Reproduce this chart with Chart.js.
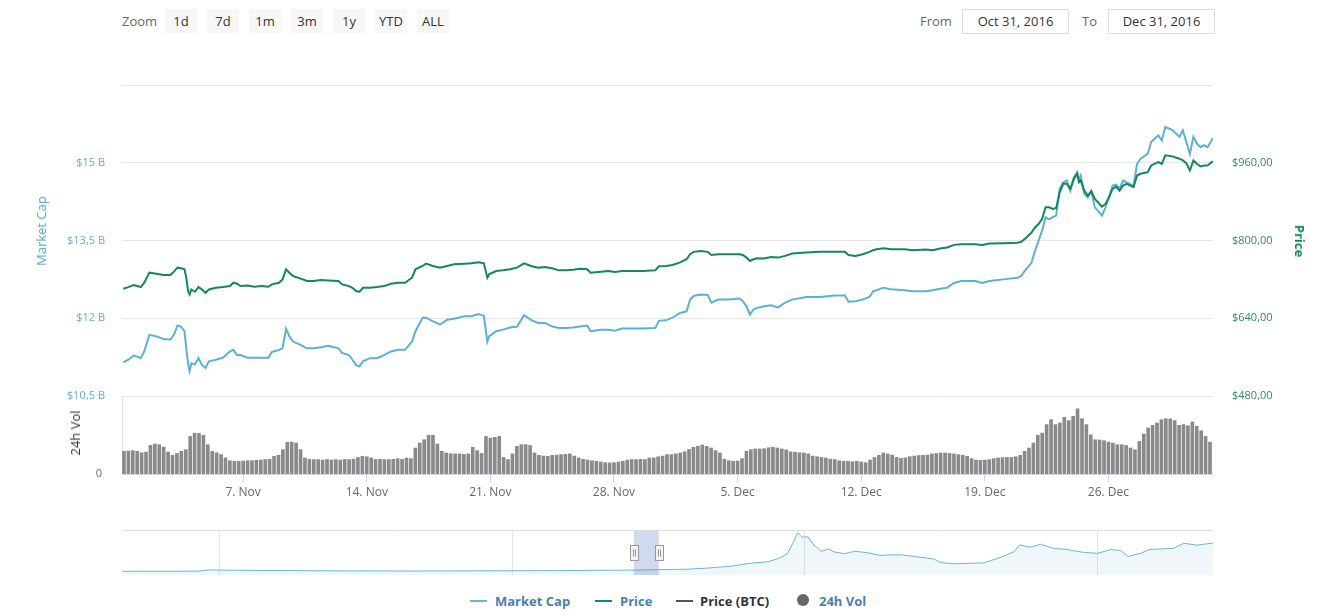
<!DOCTYPE html>
<html>
<head>
<meta charset="utf-8">
<script src="https://cdn.jsdelivr.net/npm/chart.js@4.4.1/dist/chart.umd.min.js"></script>
<style>
  html, body { margin: 0; padding: 0; background: #fff; }
  body { width: 1331px; height: 616px; position: relative; overflow: hidden; font-family: 'Open Sans', sans-serif; }
  canvas { position: absolute; left: 0; }
  #cMain { top: 80px; }
  #cVol { top: 390px; }
  #cNav { top: 528px; }
  .lbl { position: absolute; top: 9px; font-size: 13px; color: #666; line-height: 24px; }
  .btn { position: absolute; top: 9px; width: 32px; height: 24px; line-height: 24px; background: #f7f7f7; color: #333; font-size: 13px; text-align: center; }
  .box { position: absolute; top: 9px; height: 23px; line-height: 23px; border: 1px solid #ddd; color: #333; font-size: 13px; text-align: center; }
  .ttl { position: absolute; white-space: nowrap; font-size: 13px; }
  .leg { position: absolute; top: 591px; font-size: 13px; font-weight: bold; line-height: 20px; white-space: nowrap; }
  .sym { position: absolute; top: 600px; height: 2px; width: 17px; }
</style>
</head>
<body>

<div class="lbl" style="left:122px">Zoom</div>
<div class="btn" style="left:165px">1d</div>
<div class="btn" style="left:207px">7d</div>
<div class="btn" style="left:249px">1m</div>
<div class="btn" style="left:291px">3m</div>
<div class="btn" style="left:333px">1y</div>
<div class="btn" style="left:375px">YTD</div>
<div class="btn" style="left:417px">ALL</div>

<div class="lbl" style="left:920px">From</div>
<div class="box" style="left:962px;width:105px">Oct 31, 2016</div>
<div class="lbl" style="left:1082px">To</div>
<div class="box" style="left:1108px;width:105px">Dec 31, 2016</div>

<canvas id="cMain" width="1331" height="330"></canvas>
<canvas id="cVol" width="1331" height="114"></canvas>
<canvas id="cNav" width="1331" height="50"></canvas>

<div class="ttl" style="left:41px;top:231px;color:#4ea5d0;transform:translate(-50%,-50%) rotate(-90deg)">Market Cap</div>
<div class="ttl" style="left:75px;top:433px;color:#333;transform:translate(-50%,-50%) rotate(-90deg)">24h Vol</div>
<div class="ttl" style="left:1300px;top:241px;color:#15875a;font-weight:bold;transform:translate(-50%,-50%) rotate(90deg)">Price</div>

<div class="sym" style="left:470px;background:#6db3d8"></div>
<div class="leg" style="left:495px;color:#4a7db3">Market Cap</div>
<div class="sym" style="left:595px;background:#168a5e"></div>
<div class="leg" style="left:620px;color:#4a7db3">Price</div>
<div class="sym" style="left:676px;background:#555"></div>
<div class="leg" style="left:700px;color:#333">Price (BTC)</div>
<div class="sym" style="left:797px;top:594px;width:12px;height:12px;border-radius:6px;background:#666"></div>
<div class="leg" style="left:819px;color:#4a7db3">24h Vol</div>

<script>
/* ── data: days counted from 31 Oct 2016 ── */
var lineDays = [
  0.21, 0.50, 0.80, 1.00, 1.20, 1.40, 1.69, 2.09, 2.49, 2.88, 3.08, 3.28, 3.48, 3.68, 3.78, 3.88, 3.97, 4.07, 4.27, 4.47,
  4.67, 4.87, 5.06, 5.46, 5.86, 6.25, 6.45, 6.65, 6.85, 7.25, 7.64, 8.04, 8.43, 8.63, 9.03, 9.23, 9.43, 9.62, 9.82, 10.22,
  10.62, 11.01, 11.41, 11.81, 12.40, 12.60, 12.99, 13.19, 13.39, 13.59, 13.79, 14.18, 14.58, 14.98, 15.37, 15.77, 16.17, 16.56, 16.76, 17.16,
  17.36, 17.75, 18.15, 18.55, 18.94, 19.54, 19.93, 20.33, 20.63, 20.83, 20.93, 21.32, 21.72, 22.11, 22.51, 22.91, 23.30, 23.70, 24.10, 24.49,
  24.89, 25.29, 25.68, 26.08, 26.48, 26.67, 27.27, 27.67, 28.06, 28.46, 29.65, 30.34, 30.54, 30.94,
  31.31, 31.71, 32.11, 32.31, 32.51, 32.91, 33.31, 33.51, 33.90, 34.50, 35.10, 35.30, 35.50, 35.70, 35.90, 36.10, 36.50, 36.89, 37.29, 37.69,
  38.09, 38.89, 39.68, 40.48, 41.08, 41.28, 41.68, 42.08, 42.47, 42.67, 42.87, 43.27, 43.67, 44.47, 44.87, 45.66, 46.06, 46.46, 46.86, 47.26,
  47.66, 48.45, 48.85, 49.25, 50.05, 50.85, 51.05, 51.25, 51.64, 51.84, 52.04, 52.24, 52.44, 52.64, 52.84, 53.04, 53.24, 53.44, 53.64, 53.84,
  54.04, 54.23, 54.33, 54.43, 54.63, 54.83, 55.03, 55.23, 55.63, 55.83, 56.03, 56.23, 56.43, 56.63, 56.83, 57.03, 57.42, 57.62, 57.82, 58.22,
  58.42, 58.82, 59.02, 59.22, 59.62, 60.02, 60.21, 60.41, 60.61, 60.81, 61.01, 61.21, 61.41, 61.61, 61.91
];

var priceUsd = [
  700.7, 704.1, 708.3, 706.2, 704.1, 713.1, 733.8, 731.7, 729.0, 729.0, 735.9, 744.1, 742.8, 740.7, 723.4, 695.9, 689.0, 699.3, 694.5, 704.1,
  699.3, 692.4, 699.3, 702.8, 704.1, 706.2, 713.1, 711.0, 706.2, 707.6, 704.8, 706.2, 704.8, 709.7, 713.1, 720.0, 740.7, 733.8, 726.9, 722.1,
  716.6, 716.6, 718.6, 717.9, 716.6, 709.7, 706.2, 702.8, 695.9, 694.5, 702.8, 702.8, 704.1, 706.2, 711.0, 713.1, 713.1, 723.4, 740.7, 747.6,
  752.4, 747.6, 744.1, 747.6, 751.0, 752.4, 753.1, 755.2, 753.1, 723.4, 730.3, 737.2, 738.6, 740.7, 744.1, 753.1, 747.6, 744.1, 745.5, 742.8,
  738.6, 738.6, 740.0, 742.1, 740.7, 733.8, 735.9, 737.2, 735.2, 737.2, 737.2, 738.6, 746.9, 747.6,
  749.6, 754.5, 761.4, 771.7, 776.6, 778.6, 776.6, 770.3, 771.7, 771.7, 771.7, 770.3, 764.8, 757.9, 761.4, 763.4, 762.8, 766.2, 764.8, 768.3,
  773.1, 775.2, 776.6, 776.6, 776.6, 770.3, 768.3, 771.7, 776.6, 780.0, 782.1, 784.1, 782.1, 782.1, 780.0, 781.4, 780.0, 783.5, 785.5, 791.0,
  792.4, 792.4, 791.0, 793.8, 794.5, 795.2, 797.2, 802.8, 816.5, 826.9, 833.8, 844.1, 868.3, 868.3, 864.8, 866.9, 899.3, 916.6, 916.6, 906.2,
  926.9, 937.3, 920.0, 923.5, 902.8, 892.4, 901.4, 885.5, 869.7, 875.2, 889.0, 906.2, 911.0, 902.8, 913.1, 916.6, 909.7, 933.8, 937.3, 940.7,
  954.5, 961.4, 957.9, 975.2, 973.1, 968.3, 964.8, 959.3, 944.1, 964.8, 957.9, 952.4, 954.5, 954.5, 962.8
];

var marketCapB = [
  11.15, 11.20, 11.28, 11.26, 11.23, 11.36, 11.68, 11.65, 11.60, 11.59, 11.68, 11.86, 11.84, 11.75, 11.42, 11.13, 10.98, 11.13, 11.11, 11.23,
  11.10, 11.04, 11.17, 11.20, 11.24, 11.36, 11.39, 11.29, 11.29, 11.24, 11.24, 11.24, 11.24, 11.35, 11.39, 11.42, 11.80, 11.65, 11.55, 11.49,
  11.42, 11.42, 11.44, 11.47, 11.42, 11.33, 11.29, 11.20, 11.10, 11.07, 11.17, 11.23, 11.23, 11.29, 11.36, 11.39, 11.39, 11.55, 11.75, 12.01,
  12.01, 11.94, 11.88, 11.97, 11.99, 12.04, 12.04, 12.08, 12.05, 11.55, 11.65, 11.75, 11.78, 11.82, 11.84, 12.06, 11.97, 11.91, 11.91, 11.84,
  11.81, 11.81, 11.82, 11.84, 11.86, 11.75, 11.78, 11.78, 11.76, 11.80, 11.80, 11.81, 11.95, 11.96,
  12.01, 12.10, 12.13, 12.36, 12.43, 12.46, 12.45, 12.30, 12.36, 12.36, 12.38, 12.33, 12.23, 12.07, 12.17, 12.20, 12.23, 12.25, 12.21, 12.30,
  12.36, 12.41, 12.41, 12.44, 12.44, 12.32, 12.33, 12.36, 12.41, 12.52, 12.54, 12.59, 12.56, 12.54, 12.52, 12.52, 12.54, 12.57, 12.59, 12.68,
  12.72, 12.72, 12.68, 12.72, 12.75, 12.78, 12.81, 12.91, 13.07, 13.30, 13.49, 13.69, 13.95, 13.91, 13.95, 13.98, 14.50, 14.62, 14.66, 14.46,
  14.72, 14.82, 14.66, 14.75, 14.40, 14.33, 14.45, 14.14, 13.98, 14.14, 14.33, 14.56, 14.58, 14.50, 14.66, 14.62, 14.56, 14.98, 15.08, 15.17,
  15.40, 15.53, 15.43, 15.69, 15.63, 15.50, 15.63, 15.40, 15.17, 15.50, 15.37, 15.30, 15.34, 15.30, 15.47
];

// 24h volume in $ millions, one bar every 6 hours
var volStartDay = 0.25, volStepDay = 0.25;
var volumeM = [
  96, 97, 99, 96, 90, 93, 121, 127, 124, 114, 93, 79, 87, 96, 103, 159, 173, 172, 164, 124,
  96, 90, 82, 68, 56, 54, 54, 55, 56, 56, 58, 59, 61, 62, 75, 79, 103, 134, 135, 131,
  103, 68, 62, 61, 61, 59, 61, 59, 61, 59, 62, 61, 63, 70, 75, 73, 68, 62, 62, 61,
  61, 62, 65, 62, 68, 65, 110, 131, 145, 164, 164, 127, 96, 89, 86, 85, 85, 83, 85, 113,
  99, 87, 159, 152, 155, 159, 70, 61, 85, 117, 124, 124, 121, 89, 79, 76, 75, 79, 80, 82,
  83, 85, 76, 68, 62, 59, 56, 54, 51, 48, 47, 48, 51, 54, 59, 61, 61, 62, 61, 68,
  68, 73, 76, 82, 82, 85, 89, 94, 104, 113, 118, 123, 117, 110, 99, 89, 63, 56, 54, 55,
  65, 96, 103, 106, 106, 107, 111, 113, 110, 106, 102, 94, 92, 90, 89, 85, 76, 73, 70, 68,
  63, 61, 56, 54, 54, 52, 54, 51, 48, 59, 70, 79, 89, 85, 80, 70, 66, 68, 73, 76,
  78, 79, 80, 85, 87, 89, 89, 87, 85, 82, 79, 75, 65, 59, 58, 59, 61, 65, 68, 69,
  70, 70, 73, 79, 96, 110, 131, 164, 173, 209, 230, 209, 216, 240, 226, 244, 276, 234, 209, 166,
  145, 144, 141, 135, 131, 124, 124, 121, 110, 102, 138, 169, 195, 206, 216, 230, 234, 233, 226, 206,
  209, 204, 220, 202, 183, 159, 135
];

var xTickDays = [7, 14, 21, 28, 35, 42, 49, 56];
var xTickLabels = ['7. Nov', '14. Nov', '21. Nov', '28. Nov', '5. Dec', '12. Dec', '19. Dec', '26. Dec'];

// navigator: whole history, market cap in $ billions
var navYears = [
  2013.33, 2013.6, 2013.85, 2013.92, 2014.1, 2014.4, 2014.9, 2015.3, 2015.9, 2016.3, 2016.6, 2016.85, 2017.0, 2017.2, 2017.35,
  2017.5, 2017.63, 2017.75, 2017.83, 2017.88, 2017.92, 2017.95, 2017.98, 2018.02, 2018.06, 2018.11, 2018.16, 2018.2, 2018.27, 2018.34,
  2018.43, 2018.52, 2018.56, 2018.66, 2018.84, 2018.88, 2018.93, 2019.02, 2019.22, 2019.34, 2019.43, 2019.47, 2019.53, 2019.56, 2019.61,
  2019.7, 2019.79, 2019.9, 2020.0, 2020.09, 2020.16, 2020.21, 2020.3, 2020.35, 2020.52, 2020.59, 2020.68, 2020.79
];
var navMarketCapB = [
  1.5, 1.2, 3, 13, 10, 7.5, 4.5, 3.3, 6, 6.8, 10, 11.5, 15, 19, 30,
  45, 70, 82, 115, 150, 245, 326, 290, 292, 225, 170, 190, 165, 150, 170,
  158, 135, 140, 140, 112, 105, 75, 65, 72, 120, 167, 225, 205, 210, 230,
  195, 185, 162, 153, 185, 177, 127, 155, 185, 195, 238, 222, 240
];
var navTickYears = [2014, 2016, 2018, 2020];
var navRange = [2016.83, 2017.0];

/* ── helpers ── */
Chart.defaults.font.family = "'Open Sans', sans-serif";

var X_MIN = 0.14, X_MAX = 61.92;

function pts(xs, ys) {
  return xs.map(function (x, i) { return { x: x, y: ys[i] }; });
}
function comma(v, dec) {
  return (dec ? v.toFixed(dec) : String(v)).replace('.', ',');
}
// fixed axis size, and no extra room reserved for the end labels
function fixW(w) {
  return function (s) { s.width = w; s.paddingTop = 0; s.paddingBottom = 0; };
}
function fixH(h) {
  return function (s) { s.height = h; s.paddingLeft = 0; s.paddingRight = 0; };
}
var volPts = volumeM.map(function (v, i) { return { x: volStartDay + i * volStepDay, y: v }; });

var BASE = {
  responsive: false, animation: false,
  plugins: { legend: { display: false }, tooltip: { enabled: false } }
};

/* ── main pane: market cap + price ── */
new Chart(document.getElementById('cMain'), {
  type: 'line',
  data: {
    datasets: [
      { label: 'Price', data: pts(lineDays, priceUsd), yAxisID: 'yP', borderColor: '#14875b', borderWidth: 2, pointRadius: 0, tension: 0 },
      { label: 'Market Cap', data: pts(lineDays, marketCapB), yAxisID: 'yM', borderColor: '#5cb0d7', borderWidth: 2, pointRadius: 0, tension: 0 }
    ]
  },
  options: Object.assign({}, BASE, {
    layout: { padding: { top: 5, bottom: 14, left: 0, right: 0 } },
    scales: {
      x: { type: 'linear', display: false, min: X_MIN, max: X_MAX },
      yM: {
        position: 'left', min: 10.5, max: 16.5,
        afterFit: fixW(122),
        ticks: { stepSize: 1.5, padding: 17, color: '#64abd2', font: { size: 11 },
          callback: function (v) { return v > 16 ? '' : '$' + comma(v) + ' B'; } },
        grid: { color: '#e6e6e6', drawTicks: false },
        border: { display: false }
      },
      yP: {
        position: 'right', min: 480, max: 1120,
        afterFit: fixW(118),
        ticks: { stepSize: 160, padding: 19, color: '#2f8a63', font: { size: 11 },
          callback: function (v) { return v > 1000 ? '' : '$' + comma(v, 2); } },
        grid: { display: false, drawTicks: false },
        border: { display: false }
      }
    }
  })
});

/* ── volume pane ── */
new Chart(document.getElementById('cVol'), {
  type: 'bar',
  data: {
    datasets: [{ label: '24h Vol', data: volPts, backgroundColor: '#8a8a8a', barThickness: 3 }]
  },
  options: Object.assign({}, BASE, {
    layout: { padding: { top: 6, bottom: 0, left: 0, right: 118 } },
    scales: {
      x: {
        type: 'linear', min: X_MIN, max: X_MAX, offset: false,
        afterFit: fixH(30),
        afterBuildTicks: function (s) { s.ticks = xTickDays.map(function (d) { return { value: d }; }); },
        ticks: { autoSkip: false, maxRotation: 0, padding: 3, color: '#666', font: { size: 12 },
          callback: function (v) { return xTickLabels[xTickDays.indexOf(v)]; } },
        grid: { offset: false, drawOnChartArea: false, drawTicks: true, tickLength: 8, color: '#ccd6eb' },
        border: { display: true, color: '#ccd6eb' }
      },
      y: {
        position: 'left', min: 0, max: 330,
        afterFit: fixW(122),
        afterBuildTicks: function (s) { s.ticks = [{ value: 0 }]; },
        ticks: { padding: 20, color: '#666', font: { size: 11 } },
        grid: { display: false, drawTicks: false },
        border: { display: true, color: '#e0e0e0' }
      }
    }
  })
});

/* ── navigator ── */
var navDecor = {
  id: 'navDecor',
  afterDatasetsDraw: function (chart) {
    var ctx = chart.ctx, a = chart.chartArea, xs = chart.scales.x;
    var x0 = xs.getPixelForValue(navRange[0]), x1 = xs.getPixelForValue(navRange[1]);
    ctx.save();
    ctx.fillStyle = 'rgba(102,133,194,0.3)';
    ctx.fillRect(x0, a.top, x1 - x0, a.bottom - a.top);
    ctx.strokeStyle = '#dcdcdc'; ctx.lineWidth = 1;
    ctx.beginPath(); ctx.moveTo(a.left, a.top + 0.5); ctx.lineTo(a.right, a.top + 0.5); ctx.stroke();
    var my = (a.top + a.bottom) / 2;
    [x0, x1].forEach(function (hx) {
      var l = Math.round(hx - 4) + 0.5, t = Math.round(my - 8) + 0.5;
      ctx.fillStyle = '#f2f2f2'; ctx.strokeStyle = '#999';
      ctx.fillRect(l, t, 8, 15); ctx.strokeRect(l, t, 8, 15);
      ctx.beginPath();
      ctx.moveTo(l + 3, t + 4); ctx.lineTo(l + 3, t + 11);
      ctx.moveTo(l + 5, t + 4); ctx.lineTo(l + 5, t + 11);
      ctx.stroke();
    });
    ctx.restore();
  }
};

new Chart(document.getElementById('cNav'), {
  type: 'line',
  data: {
    datasets: [{ data: pts(navYears, navMarketCapB), borderColor: '#6cb4d8', borderWidth: 1, pointRadius: 0, tension: 0,
      fill: 'start', backgroundColor: 'rgba(108,180,216,0.1)' }]
  },
  options: Object.assign({}, BASE, {
    layout: { padding: { top: 2, bottom: 3, left: 122, right: 118 } },
    scales: {
      x: {
        type: 'linear', min: 2013.33, max: 2020.79,
        afterFit: fixH(0),
        afterBuildTicks: function (s) { s.ticks = navTickYears.map(function (y) { return { value: y }; }); },
        ticks: { autoSkip: false, maxRotation: 0, align: 'start', labelOffset: 4, padding: -17, color: '#999', font: { size: 11 },
          callback: function (v) { return String(v); } },
        grid: { color: '#e6e6e6', drawTicks: false },
        border: { display: false }
      },
      y: { display: false, min: -30, max: 350 }
    }
  }),
  plugins: [navDecor]
});
</script>
</body>
</html>
